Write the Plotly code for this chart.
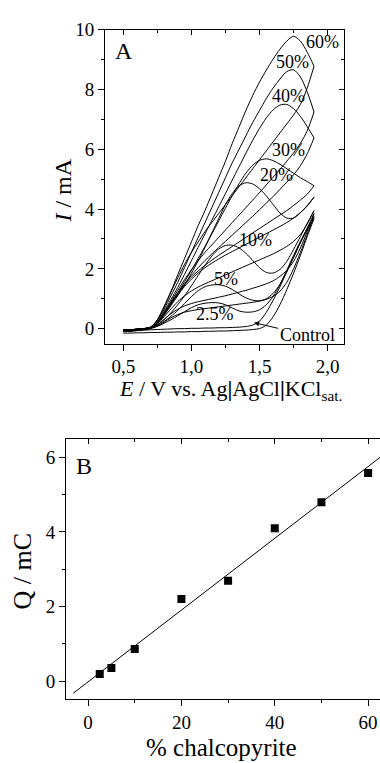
import plotly.graph_objects as go
import numpy as np

# ---------------- Panel A : cyclic voltammograms ----------------
E_FWD = [0.50, 0.55, 0.60, 0.65, 0.70, 0.75, 0.80, 0.85, 0.90, 0.95, 1.00, 1.05, 1.10, 1.15,
         1.20, 1.25, 1.30, 1.35, 1.40, 1.45, 1.50, 1.55, 1.60, 1.65, 1.70, 1.75, 1.80, 1.85, 1.90]
E_REV = [1.90, 1.85, 1.80, 1.75, 1.70, 1.65, 1.60, 1.55, 1.50, 1.45, 1.40, 1.35, 1.30, 1.25,
         1.20, 1.15, 1.10, 1.05, 1.00, 0.95, 0.90, 0.85, 0.80, 0.75, 0.70, 0.65, 0.60, 0.55, 0.50]

I_FWD_60 = [-0.05, -0.04, -0.02, 0.00, 0.05, 0.30, 0.75, 1.25, 1.80, 2.35, 2.90, 3.45, 3.95, 4.50,
            5.05, 5.60, 6.20, 6.75, 7.30, 7.80, 8.25, 8.65, 9.02, 9.35, 9.62, 9.78, 9.62, 9.25, 8.78]
I_FWD_50 = [-0.05, -0.04, -0.02, 0.00, 0.05, 0.28, 0.65, 1.10, 1.55, 2.05, 2.55, 3.05, 3.55, 4.05,
            4.55, 5.05, 5.55, 6.00, 6.45, 6.90, 7.30, 7.70, 8.05, 8.35, 8.60, 8.66, 8.42, 7.92, 7.25]
I_FWD_40 = [-0.05, -0.04, -0.02, 0.00, 0.05, 0.25, 0.58, 0.97, 1.38, 1.82, 2.27, 2.72, 3.17, 3.62,
            4.07, 4.52, 4.97, 5.42, 5.87, 6.30, 6.70, 7.05, 7.32, 7.48, 7.50, 7.36, 7.10, 6.76, 6.38]
I_FWD_30 = [-0.05, -0.04, -0.02, 0.00, 0.04, 0.20, 0.50, 0.85, 1.20, 1.57, 1.95, 2.35, 2.75, 3.17,
            3.60, 4.03, 4.45, 4.85, 5.20, 5.47, 5.63, 5.68, 5.62, 5.50, 5.35, 5.20, 5.05, 4.92, 4.78]
I_FWD_20 = [-0.05, -0.04, -0.02, 0.00, 0.04, 0.18, 0.45, 0.77, 1.10, 1.46, 1.85, 2.27, 2.72, 3.20,
            3.68, 4.15, 4.52, 4.78, 4.88, 4.84, 4.68, 4.44, 4.15, 3.87, 3.70, 3.70, 3.88, 4.12, 4.40]
I_FWD_10 = [-0.05, -0.04, -0.02, 0.00, 0.03, 0.12, 0.30, 0.53, 0.80, 1.10, 1.43, 1.78, 2.12, 2.43,
            2.66, 2.78, 2.79, 2.70, 2.52, 2.28, 2.04, 1.88, 1.86, 1.98, 2.25, 2.65, 3.08, 3.52, 3.95]
I_FWD_5 = [-0.05, -0.04, -0.02, 0.00, 0.03, 0.10, 0.24, 0.41, 0.61, 0.84, 1.07, 1.27, 1.40, 1.46,
           1.47, 1.42, 1.31, 1.16, 1.03, 0.95, 0.93, 1.00, 1.18, 1.48, 1.90, 2.38, 2.88, 3.36, 3.85]
I_FWD_25 = [-0.05, -0.04, -0.02, 0.00, 0.02, 0.08, 0.18, 0.30, 0.43, 0.57, 0.70, 0.80, 0.85, 0.87,
            0.86, 0.80, 0.69, 0.59, 0.55, 0.56, 0.63, 0.80, 1.08, 1.48, 1.95, 2.45, 2.92, 3.35, 3.75]
I_FWD_C = [-0.08, -0.07, -0.06, -0.05, -0.04, -0.03, -0.02, -0.01, 0.00, 0.00, 0.01, 0.01, 0.02, 0.02,
           0.03, 0.03, 0.04, 0.05, 0.07, 0.12, 0.25, 0.55, 0.95, 1.40, 1.90, 2.40, 2.88, 3.30, 3.68]

I_REV_60 = [8.78, 8.05, 7.50, 7.15, 6.85, 6.55, 6.25, 5.95, 5.65, 5.35, 5.05, 4.75, 4.45, 4.15,
            3.85, 3.55, 3.25, 2.90, 2.55, 2.15, 1.70, 1.22, 0.72, 0.28, 0.04, -0.02, -0.05, -0.07, -0.08]
I_REV_50 = [7.25, 6.62, 6.20, 5.88, 5.60, 5.33, 5.07, 4.81, 4.55, 4.30, 4.05, 3.80, 3.55, 3.30,
            3.05, 2.80, 2.55, 2.27, 1.97, 1.64, 1.28, 0.90, 0.53, 0.21, 0.03, -0.02, -0.05, -0.07, -0.08]
I_REV_40 = [6.38, 5.85, 5.45, 5.15, 4.90, 4.66, 4.42, 4.20, 3.98, 3.76, 3.55, 3.34, 3.13, 2.92,
            2.71, 2.50, 2.28, 2.04, 1.78, 1.50, 1.18, 0.84, 0.50, 0.19, 0.03, -0.02, -0.05, -0.07, -0.08]
I_REV_30 = [4.78, 4.50, 4.30, 4.12, 3.95, 3.80, 3.65, 3.50, 3.35, 3.20, 3.05, 2.90, 2.75, 2.60,
            2.45, 2.29, 2.12, 1.93, 1.72, 1.47, 1.18, 0.86, 0.52, 0.20, 0.03, -0.02, -0.05, -0.07, -0.08]
I_REV_20 = [4.40, 4.10, 3.88, 3.70, 3.55, 3.42, 3.30, 3.18, 3.06, 2.94, 2.82, 2.70, 2.58, 2.46,
            2.33, 2.19, 2.04, 1.86, 1.65, 1.41, 1.13, 0.81, 0.48, 0.18, 0.03, -0.02, -0.05, -0.07, -0.08]
I_REV_10 = [3.95, 3.50, 3.15, 2.92, 2.75, 2.62, 2.50, 2.40, 2.30, 2.20, 2.10, 2.00, 1.90, 1.80,
            1.70, 1.60, 1.50, 1.39, 1.26, 1.10, 0.90, 0.66, 0.40, 0.15, 0.02, -0.02, -0.05, -0.07, -0.08]
I_REV_5 = [3.85, 3.25, 2.70, 2.25, 1.95, 1.75, 1.60, 1.50, 1.42, 1.35, 1.28, 1.22, 1.16, 1.10,
           1.05, 1.00, 0.95, 0.90, 0.84, 0.76, 0.65, 0.50, 0.31, 0.12, 0.01, -0.03, -0.06, -0.08, -0.09]
I_REV_25 = [3.75, 3.15, 2.55, 2.00, 1.55, 1.25, 1.08, 0.98, 0.92, 0.88, 0.85, 0.82, 0.79, 0.76,
            0.73, 0.70, 0.67, 0.64, 0.60, 0.55, 0.47, 0.36, 0.22, 0.08, 0.00, -0.04, -0.07, -0.09, -0.10]
I_REV_C = [3.68, 3.08, 2.45, 1.85, 1.30, 0.80, 0.40, 0.12, 0.00, -0.03, -0.05, -0.06, -0.07, -0.08,
           -0.08, -0.09, -0.09, -0.10, -0.10, -0.11, -0.11, -0.12, -0.12, -0.13, -0.13, -0.14, -0.14, -0.15, -0.15]

CURVE_LABELS = ["60%", "50%", "40%", "30%", "20%", "10%", "5%", "2.5%"]
LABEL_E = [1.959, 1.739, 1.709, 1.709, 1.621, 1.467, 1.254, 1.173]
LABEL_I = [9.60, 8.91, 7.79, 5.97, 5.14, 2.96, 1.67, 0.49]
CONTROL_TEXT = "Control"
CONTROL_TEXT_POS = [1.849, -0.22]
CONTROL_ARROW_HEAD = [1.46, 0.20]

# ---------------- Panel B : charge vs % chalcopyrite ----------------
PCT = [2.5, 5, 10, 20, 30, 40, 50, 60]
Q = [0.19, 0.35, 0.86, 2.20, 2.69, 4.10, 4.80, 5.58]
FIT_X = [-3.2, 63.0]

FONT = "Liberation Serif, Times New Roman, serif"
BLACK = "#000000"

fig = go.Figure()

fwd_sets = [I_FWD_60, I_FWD_50, I_FWD_40, I_FWD_30, I_FWD_20, I_FWD_10, I_FWD_5, I_FWD_25, I_FWD_C]
rev_sets = [I_REV_60, I_REV_50, I_REV_40, I_REV_30, I_REV_20, I_REV_10, I_REV_5, I_REV_25, I_REV_C]
for yf, yr in zip(fwd_sets, rev_sets):
    fig.add_trace(go.Scatter(x=E_FWD, y=yf, mode="lines", xaxis="x", yaxis="y",
                             line=dict(color=BLACK, width=1, shape="spline", smoothing=0.8),
                             showlegend=False, hoverinfo="skip"))
    fig.add_trace(go.Scatter(x=E_REV, y=yr, mode="lines", xaxis="x", yaxis="y",
                             line=dict(color=BLACK, width=1, shape="spline", smoothing=0.8),
                             showlegend=False, hoverinfo="skip"))

# dummy traces so the mirror axes are drawn
fig.add_trace(go.Scatter(x=[None], y=[None], xaxis="x3", yaxis="y", showlegend=False, hoverinfo="skip"))
fig.add_trace(go.Scatter(x=[None], y=[None], xaxis="x", yaxis="y3", showlegend=False, hoverinfo="skip"))
fig.add_trace(go.Scatter(x=[None], y=[None], xaxis="x4", yaxis="y2", showlegend=False, hoverinfo="skip"))

# panel B
coef = np.polyfit(PCT, Q, 1)
fit_y = [coef[0] * v + coef[1] for v in FIT_X]
fig.add_trace(go.Scatter(x=FIT_X, y=fit_y, mode="lines", xaxis="x2", yaxis="y2",
                         line=dict(color=BLACK, width=1), showlegend=False, hoverinfo="skip"))
fig.add_trace(go.Scatter(x=PCT, y=Q, mode="markers", xaxis="x2", yaxis="y2",
                         marker=dict(symbol="square", size=8, color=BLACK),
                         showlegend=False, hoverinfo="skip"))

tickfont = dict(family=FONT, size=19, color=BLACK)
common = dict(showgrid=False, zeroline=False, showline=True, linecolor=BLACK, linewidth=1,
              tickcolor=BLACK, tickwidth=1, tickfont=tickfont)

domA_x = [105 / 380, 344 / 380]
domA_y = [1 - 338 / 763, 1 - 20 / 763]
domB_x = [66 / 380, 1.0]
domB_y = [1 - 698 / 763, 1 - 435 / 763]
rA_x = [0.366, 2.12]
rA_y = [-0.5, 10]
rB_x = [-4.73, 62.55]
rB_y = [-0.476, 6.485]

fig.update_layout(
    width=380, height=763, margin=dict(l=0, r=0, t=0, b=0, pad=0),
    paper_bgcolor="white", plot_bgcolor="white", separators=",.",
    font=dict(family=FONT, color=BLACK),
    xaxis=dict(domain=domA_x, anchor="y", range=rA_x, tick0=0.5, dtick=0.5, tickformat=".1f",
               ticks="outside", ticklen=6,
               minor=dict(ticks="outside", ticklen=3, dtick=0.25, tick0=0, tickcolor=BLACK), **common),
    xaxis3=dict(overlaying="x", anchor="y", side="top", range=rA_x, tick0=0.5, dtick=0.5,
                ticks="inside", ticklen=5, showticklabels=False,
                minor=dict(ticks="inside", ticklen=3, dtick=0.25, tick0=0, tickcolor=BLACK), **common),
    yaxis=dict(domain=domA_y, anchor="x", range=rA_y, tick0=0, dtick=2, ticks="outside", ticklen=6,
               minor=dict(ticks="outside", ticklen=3, dtick=1, tick0=0, tickcolor=BLACK), **common),
    yaxis3=dict(overlaying="y", anchor="x", side="right", range=rA_y, tick0=0, dtick=2,
                ticks="inside", ticklen=5, showticklabels=False,
                minor=dict(ticks="inside", ticklen=3, dtick=1, tick0=0, tickcolor=BLACK), **common),
    xaxis2=dict(domain=domB_x, anchor="y2", range=rB_x, tick0=0, dtick=20, ticks="outside", ticklen=6,
                minor=dict(ticks="outside", ticklen=3, dtick=10, tick0=0, tickcolor=BLACK), **common),
    xaxis4=dict(overlaying="x2", anchor="y2", side="top", range=rB_x, tick0=0, dtick=20,
                ticks="inside", ticklen=5, showticklabels=False,
                minor=dict(ticks="inside", ticklen=3, dtick=10, tick0=0, tickcolor=BLACK), **common),
    yaxis2=dict(domain=domB_y, anchor="x2", range=rB_y, tick0=0, dtick=2, ticks="outside", ticklen=6,
                minor=dict(ticks="outside", ticklen=3, dtick=1, tick0=0, tickcolor=BLACK), **common),
)


def txt(x, y, t, size, xref="x", yref="y", angle=0):
    return dict(x=x, y=y, xref=xref, yref=yref, text=t, showarrow=False, textangle=angle,
                xanchor="center", yanchor="middle", font=dict(family=FONT, size=size, color=BLACK))


ann = []
for t, ex, iy in zip(CURVE_LABELS, LABEL_E, LABEL_I):
    ann.append(txt(ex, iy, t, 18))
ann.append(dict(x=CONTROL_ARROW_HEAD[0], y=CONTROL_ARROW_HEAD[1], xref="x", yref="y",
                ax=CONTROL_TEXT_POS[0], ay=CONTROL_TEXT_POS[1], axref="x", ayref="y",
                text=CONTROL_TEXT, showarrow=True, arrowhead=2, arrowsize=1, arrowwidth=1,
                arrowcolor=BLACK, xanchor="center", yanchor="middle",
                font=dict(family=FONT, size=18, color=BLACK)))
ann.append(txt(0.505, 9.29, "A", 24))
ann.append(txt(-0.81, 5.78, "B", 24, xref="x2", yref="y2"))
# axis titles
ann.append(txt(63 / 380, 1 - 183 / 763, "<i>I</i> / mA", 24, "paper", "paper", -90))
ann.append(txt(230 / 380, 1 - 385 / 763,
               "<i>E</i> / V vs. Ag<b>|</b>AgCl<b>|</b>KCl<sub>sat.</sub>", 22, "paper", "paper"))
ann.append(txt(23 / 380, 1 - 569 / 763, "Q / mC", 26, "paper", "paper", -90))
ann.append(txt(221 / 380, 1 - 747 / 763, "% chalcopyrite", 25, "paper", "paper"))
fig.update_layout(annotations=ann)

fig.write_html("out.html")
